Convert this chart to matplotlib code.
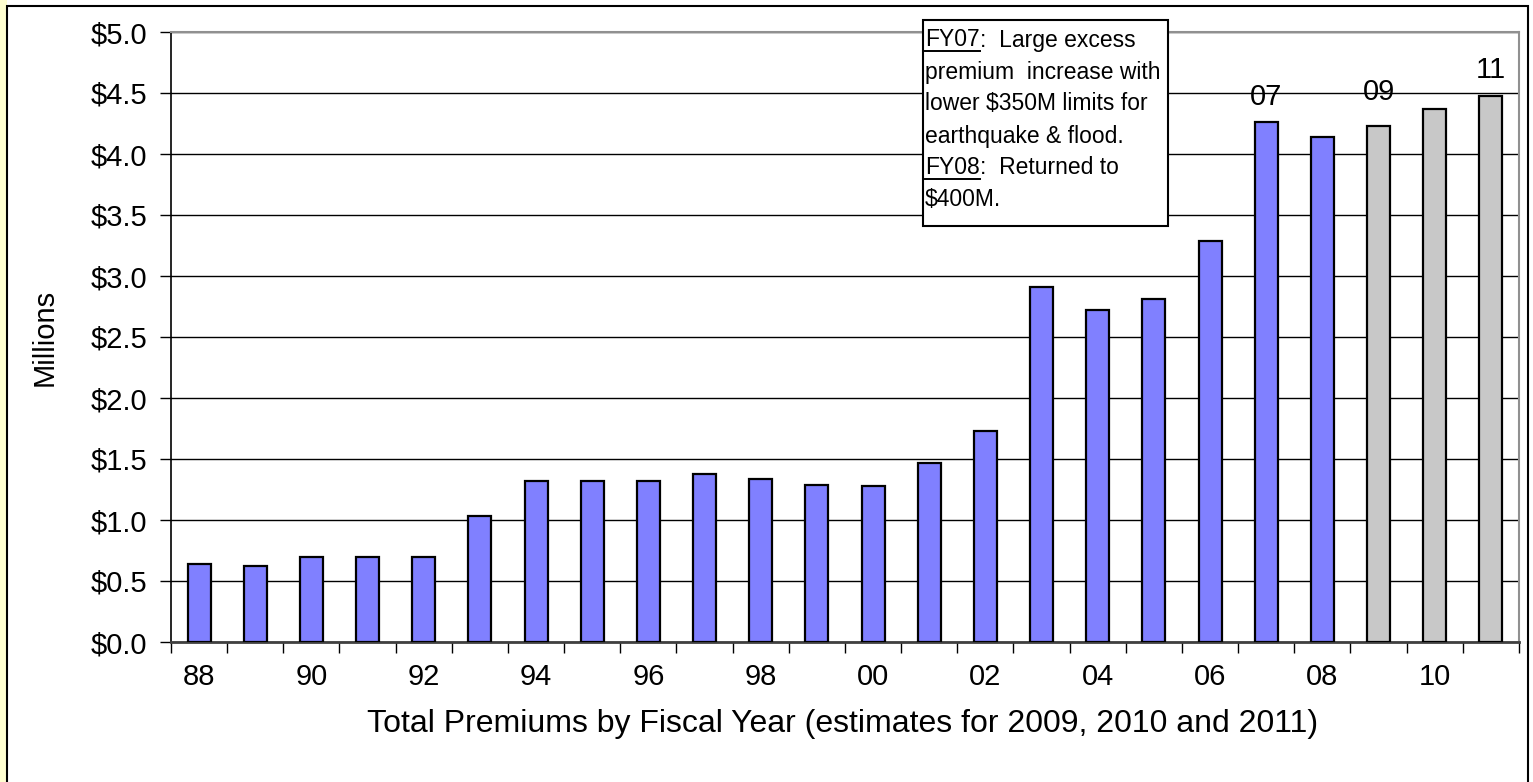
import numpy as np
import matplotlib as mpl
import matplotlib.pyplot as plt
from matplotlib.patches import Rectangle
from matplotlib.lines import Line2D

mpl.rcParams['font.family'] = ['Liberation Sans', 'DejaVu Sans']

W, H = 1533, 782

# fiscal years and total premiums ($ millions)
years = ['88', '89', '90', '91', '92', '93', '94', '95', '96', '97', '98', '99',
         '00', '01', '02', '03', '04', '05', '06', '07', '08', '09', '10', '11']
premiums = [0.64, 0.625, 0.70, 0.70, 0.70, 1.03, 1.32, 1.32, 1.32, 1.375, 1.34, 1.29,
            1.28, 1.47, 1.73, 2.91, 2.72, 2.81, 3.29, 4.265, 4.14, 4.23, 4.37, 4.475]
estimate_years = ['09', '10', '11']
labelled_years = ['07', '09', '11']
# vertical gap (points) between bar top and its year label
label_gap = {'07': 8, '09': 14, '11': 9}

# note lines: (underlined lead, rest of line)
note_lines = [('FY07', ':  Large excess'),
              ('', 'premium  increase with'),
              ('', 'lower $350M limits for'),
              ('', 'earthquake & flood.'),
              ('FY08', ':  Returned to'),
              ('', '$400M.')]

fig = plt.figure(figsize=(W / 100, H / 100), dpi=100)
fig.patch.set_facecolor('white')

# yellow strip and outer frame
fig.patches.append(Rectangle((0, 0), 7 / W, 1, transform=fig.transFigure,
                             facecolor='#ffffd0', edgecolor='none', zorder=0))
fig.patches.append(Rectangle((7 / W, -0.05), 1521 / W, 1.05 - 6 / H,
                             transform=fig.transFigure, facecolor='none',
                             edgecolor='black', linewidth=1.5, zorder=1))

ax = fig.add_axes([171 / W, (H - 642) / H, 1348 / W, 610 / H])

x = np.arange(len(years))
colors = ['#c8c8c8' if y in estimate_years else '#8080ff' for y in years]
ax.bar(x, premiums, width=0.41, color=colors, edgecolor='black', linewidth=1.6, zorder=3)

for i, y in enumerate(years):
    if y in labelled_years:
        ax.annotate(y, (x[i], premiums[i]), xytext=(0, label_gap[y]),
                    textcoords='offset points', ha='center', va='bottom', fontsize=21)

ax.set_xlim(-0.5, len(years) - 0.5)
ax.set_ylim(0, 5.0)
yt = np.arange(0, 5.01, 0.5)
ax.set_yticks(yt)
ax.set_yticklabels(['$%.1f' % v for v in yt], fontsize=21)
ax.yaxis.grid(True, color='black', linewidth=1.0, zorder=0)
ax.set_axisbelow(True)

# ticks between categories, labels every other year
ax.set_xticks(np.arange(-0.5, len(years), 1.0))
ax.set_xticklabels([])
ax.set_xticks(x[::2], minor=True)
ax.set_xticklabels(years[::2], minor=True, fontsize=21)
ax.tick_params(axis='x', which='minor', length=0, pad=15)
ax.tick_params(axis='x', which='major', length=8, width=1, direction='out')
ax.tick_params(axis='y', length=8, width=1, direction='out', pad=9)

for side in ['top', 'right']:
    ax.spines[side].set_color('#909090')
    ax.spines[side].set_linewidth(1.5)
ax.spines['left'].set_linewidth(1.2)
ax.spines['bottom'].set_color('#404040')
ax.spines['bottom'].set_linewidth(2)

ax.set_ylabel('Millions', fontsize=21, va='center')
ax.yaxis.set_label_coords((45 - 171) / 1348, 0.5)
ax.set_xlabel('Total Premiums by Fiscal Year (estimates for 2009, 2010 and 2011)',
              fontsize=23, va='center')
ax.xaxis.set_label_coords((843 - 171) / 1348, (642 - 724) / 610)

# note box with underlined fiscal-year leads
fig.patches.append(Rectangle((923 / W, 1 - 226 / H), 245 / W, 206 / H,
                             transform=fig.transFigure, facecolor='white',
                             edgecolor='black', linewidth=1.5, zorder=4))
fig.canvas.draw()
renderer = fig.canvas.get_renderer()
x0 = 925
for k, (lead, rest) in enumerate(note_lines):
    yc = 1 - (40 + 32 * k) / H
    xpos = x0
    if lead:
        t = fig.text(xpos / W, yc, lead, fontsize=16.5, va='center', ha='left', zorder=5)
        bb = t.get_window_extent(renderer)
        fig.lines.append(Line2D([bb.x0 / W, bb.x1 / W], [(bb.y0 + 1) / H] * 2,
                                transform=fig.transFigure, color='black',
                                linewidth=1.4, zorder=5))
        xpos = bb.x1
    fig.text(xpos / W, yc, rest, fontsize=16.5, va='center', ha='left', zorder=5)

fig.savefig('out.png', dpi=100)
